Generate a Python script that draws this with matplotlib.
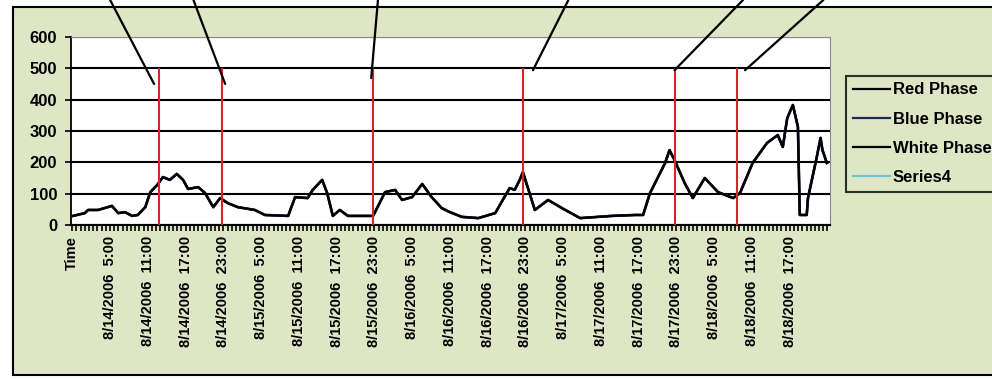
import matplotlib
matplotlib.use("Agg")
import matplotlib.pyplot as plt
from matplotlib.patches import Rectangle
from matplotlib.lines import Line2D

# hours counted from the "Time" header category (8/13/2006 23:00)
hours = [
    0.1, 2.0, 2.5, 4.1, 6.3, 7.3, 8.4, 9.5, 10.4, 11.6, 12.4, 13.5, 14.4,
    15.5, 16.6, 17.6, 18.4, 20.0, 21.1, 22.4, 23.5, 24.7, 26.3, 29.0, 30.6,
    34.3, 35.4, 37.4, 38.2, 39.7, 40.5, 41.4, 42.5, 43.8, 47.8, 49.7, 51.3,
    52.4, 54.0, 55.6, 57.1, 58.7, 60.0, 61.9, 64.5, 67.2, 69.5, 70.3, 71.1,
    71.6, 72.4, 73.5, 75.6, 77.8, 80.7, 85.7, 89.4, 90.7, 91.8, 93.0, 94.2,
    94.9, 95.7, 97.3, 98.6, 100.5, 102.6, 105.0, 106.1, 108.1, 110.4, 112.1,
    112.9, 113.6, 114.5, 115.3, 115.6, 116.7, 116.9, 118.3, 118.9, 119.2, 119.9,
]
red_phase = [
    29, 38, 48, 48, 61, 38, 41, 29, 32, 57, 105, 128, 153,
    144, 163, 144, 115, 121, 102, 57, 86, 70, 57, 48, 32,
    29, 89, 86, 112, 144, 102, 29, 48, 29, 29, 105, 112,
    80, 89, 131, 89, 54, 41, 26, 22, 38, 118, 112, 144,
    169, 118, 48, 80, 54, 22, 29, 32, 32, 102, 150, 198,
    239, 207, 134, 86, 150, 105, 86, 102, 198, 262, 287,
    249, 341, 383, 313, 32, 32, 86, 217, 278, 239, 198,
]
blue_phase = list(red_phase)
white_phase = list(red_phase)
series4 = []

tick_hours = list(range(0, 120, 6))
tick_labels = ["Time"] + [
    f"8/{14 + (h + 23) // 24 - 1}/2006  {(h + 23) % 24}:00" for h in tick_hours[1:]
]
# times marked with red verticals
marks = [13.8, 23.8, 47.8, 71.6, 95.7, 105.7]
# callout leader lines: (start x as figure fraction at top edge, end hour, end value)
callouts = [(0.111, 13.0, 450), (0.195, 24.3, 450), (0.381, 47.5, 469),
            (0.573, 73.2, 494), (0.749, 95.7, 494), (0.830, 106.9, 494)]

plt.rcParams["font.family"] = ["Liberation Sans", "DejaVu Sans"]
plt.rcParams["font.weight"] = "bold"

fig = plt.figure(figsize=(9.92, 3.79), dpi=100)
fig.patch.set_facecolor("white")

# chart area background
fig.patches.append(Rectangle((0.013, 0.011), 1.0, 0.971, transform=fig.transFigure,
                             facecolor="#dfe6c6", edgecolor="black", lw=1.5, zorder=-10))

ax = fig.add_axes([0.0716, 0.4063, 0.7651, 0.4961])
ax.set_facecolor("white")

ax.plot(hours[:len(series4)], series4, color="#66c8d8", lw=1.2, label="Series4")
ax.plot(hours, white_phase, color="black", lw=1.9, label="White Phase")
ax.plot(hours, blue_phase, color="#1c2a5a", lw=1.7, label="Blue Phase")
ax.plot(hours, red_phase, color="black", lw=1.5, label="Red Phase")

ax.vlines(marks, 0, 500, color="#d42828", lw=1.5, zorder=3)

for fx, h, v in callouts:
    ax.annotate("", xy=(h, v), xytext=(fx, 1.0), textcoords="figure fraction",
                arrowprops=dict(arrowstyle="-", lw=1.6, color="black",
                                shrinkA=0, shrinkB=0), annotation_clip=False)

ax.set_xlim(-0.2, 120.4)
ax.set_ylim(0, 600)
ax.set_yticks(range(0, 601, 100))
ax.yaxis.grid(True, color="black", lw=1.5)
ax.set_axisbelow(True)
ax.tick_params(axis="y", labelsize=12, length=4, width=1.2, pad=6)
ax.set_xticks(tick_hours)
ax.set_xticklabels(tick_labels, rotation=90, fontsize=10.5, fontweight="bold")
ax.set_xticks([i * 2 / 3 for i in range(181)], minor=True)
ax.tick_params(axis="x", which="both", length=4, width=1.2, pad=4)
for lbl in ax.get_yticklabels():
    lbl.set_fontweight("bold")

ax.spines["left"].set_linewidth(1.3)
ax.spines["bottom"].set_linewidth(1.5)
for s in ("top", "right"):
    ax.spines[s].set_color("#888888")
    ax.spines[s].set_linewidth(0.8)

# legend in Excel order
handles = [
    Line2D([], [], color="black", lw=1.6),
    Line2D([], [], color="#1c2a5a", lw=1.6),
    Line2D([], [], color="black", lw=1.6),
    Line2D([], [], color="#66c8d8", lw=1.6),
]
leg = fig.legend(handles, ["Red Phase", "Blue Phase", "White Phase", "Series4"],
                 loc="upper left", bbox_to_anchor=(0.853, 0.80), fontsize=12,
                 frameon=True, fancybox=False, handlelength=2.2, handletextpad=0.2,
                 labelspacing=0.85, borderpad=0.4, borderaxespad=0)
leg.get_frame().set_edgecolor("black")
leg.get_frame().set_linewidth(1.5)
leg.get_frame().set_facecolor("#dfe6c6")
for t in leg.get_texts():
    t.set_fontweight("bold")

fig.savefig("out.png", dpi=100)
